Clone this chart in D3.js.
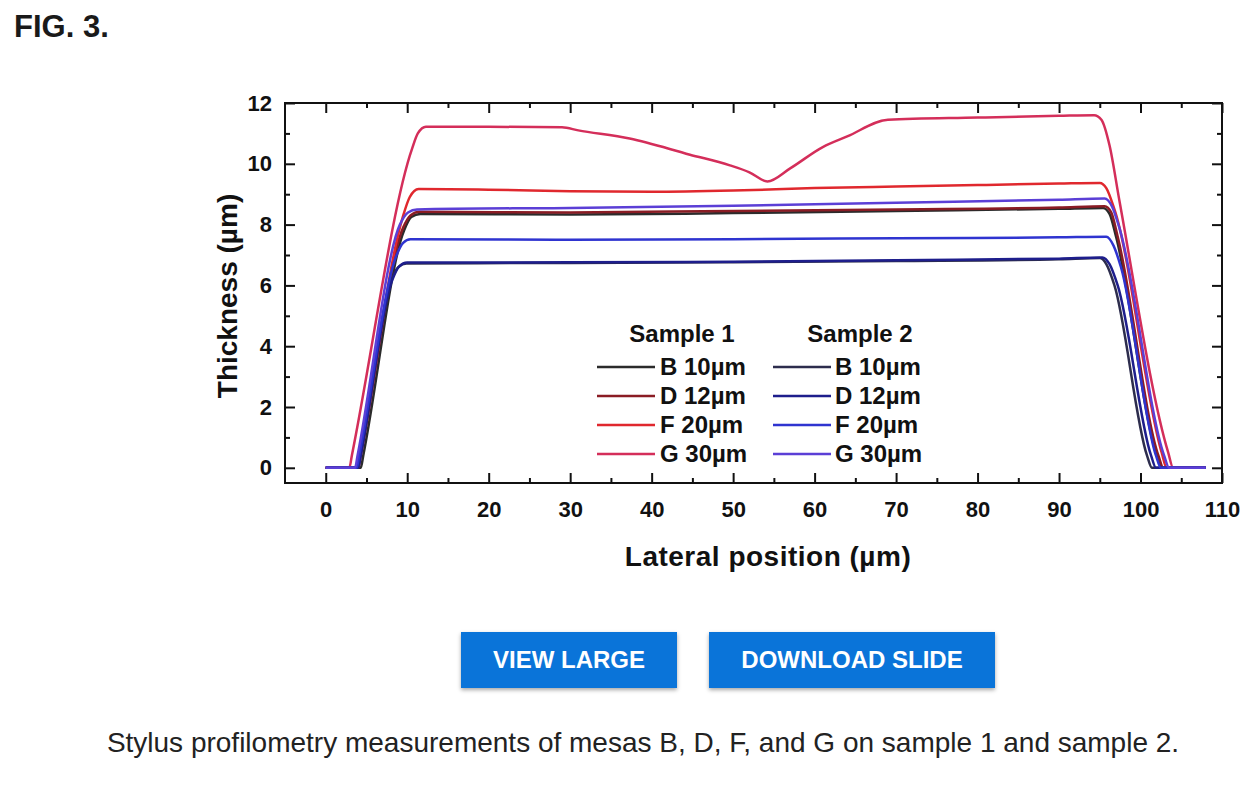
<!DOCTYPE html>
<html>
<head>
<meta charset="utf-8">
<script src="https://cdn.jsdelivr.net/npm/d3@7"></script>
<style>
  body {
    margin: 0;
    width: 1260px;
    height: 786px;
    background: #fff;
    font-family: 'Liberation Sans', Arial, sans-serif;
    position: relative;
    overflow: hidden;
  }
  .fig-label {
    position: absolute; left: 14px; top: 12px;
    font-size: 31px; line-height: 30px; font-weight: bold; color: #1a1a1a;
  }
  #chart { position: absolute; left: 0; top: 0; }
  .btn {
    position: absolute; top: 632px; height: 56px;
    background: #0a74d9; color: #fff;
    font-size: 24px; font-weight: bold;
    display: flex; align-items: center; justify-content: center;
    box-shadow: 0 2px 4px rgba(0, 0, 0, 0.35);
  }
  .caption {
    position: absolute; left: 0; width: 1286px; top: 729px;
    text-align: center; font-size: 28px; line-height: 28px; color: #222;
  }
  .tick-label { font-size: 22px; font-weight: bold; fill: #111; }
  .axis-title { font-size: 28px; font-weight: bold; fill: #111; }
  .legend-text { font-size: 24px; font-weight: bold; fill: #111; }
</style>
</head>
<body>
<div class="fig-label">FIG. 3.</div>
<div id="chart"></div>
<div class="btn" style="left:461px;width:216px;">VIEW LARGE</div>
<div class="btn" style="left:709px;width:286px;">DOWNLOAD SLIDE</div>
<div class="caption">Stylus profilometry measurements of mesas B, D, F, and G on sample 1 and sample 2.</div>
<script>
// axis ticks
const lateralTicks = [0, 10, 20, 30, 40, 50, 60, 70, 80, 90, 100, 110];
const lateralMinorTicks = [5, 15, 25, 35, 45, 55, 65, 75, 85, 95, 105];
const thicknessTicks = [0, 2, 4, 6, 8, 10, 12];
const thicknessMinorTicks = [1, 3, 5, 7, 9, 11];

const samples = ['Sample 1', 'Sample 2'];
const mesas = ['B 10µm', 'D 12µm', 'F 20µm', 'G 30µm'];

// profiles: [lateral position (µm), thickness (µm)]
const sample1B = [[0, 0], [4.3, 0], [4.6, 0.4], [9.6, 7.8], [10.5, 8.25], [11.6, 8.35], [30, 8.33], [50, 8.38],
  [70, 8.45], [90, 8.52], [95.4, 8.55], [96.2, 8.35], [97.0, 7.6], [102.0, 0.4], [102.6, 0], [108, 0]];
const sample1D = [[0, 0], [4.0, 0], [4.3, 0.4], [9.5, 7.9], [10.4, 8.3], [11.5, 8.42], [30, 8.4], [50, 8.45],
  [70, 8.5], [90, 8.56], [95.6, 8.6], [96.4, 8.4], [97.2, 7.6], [102.2, 0.4], [102.8, 0], [108, 0]];
const sample1F = [[0, 0], [3.9, 0], [4.2, 0.4], [9.4, 8.2], [10.3, 8.9], [11.4, 9.17], [20, 9.15], [30, 9.1],
  [40, 9.08], [50, 9.12], [60, 9.2], [70, 9.25], [80, 9.3], [90, 9.35], [95.0, 9.37], [95.8, 9.2],
  [96.8, 8.5], [102.6, 0.5], [103.2, 0], [108, 0]];
const sample1G = [[0, 0], [2.9, 0], [3.2, 0.4], [10.6, 10.5], [11.3, 11.0], [12.3, 11.22], [20, 11.22], [29, 11.2],
  [31, 11.1], [37.3, 10.83], [44.7, 10.3], [49.6, 9.95], [52, 9.72], [54.2, 9.42], [57, 9.85],
  [61, 10.55], [64, 10.9], [69, 11.45], [80, 11.52], [90, 11.58], [94.3, 11.6], [95.2, 11.45],
  [96.2, 10.6], [97.4, 8.8], [103.4, 0.5], [104.0, 0], [108, 0]];
const sample2B = [[0, 0], [3.9, 0], [4.2, 0.4], [8.1, 6.2], [8.9, 6.6], [9.9, 6.72], [30, 6.74], [50, 6.76],
  [70, 6.8], [90, 6.86], [95.0, 6.9], [95.8, 6.7], [96.8, 6.0], [100.8, 0.4], [101.4, 0], [108, 0]];
const sample2D = [[0, 0], [4.0, 0], [4.3, 0.4], [8.2, 6.2], [9.0, 6.62], [10.0, 6.75], [30, 6.76], [50, 6.78],
  [70, 6.83], [90, 6.88], [95.3, 6.92], [96.2, 6.7], [97.2, 6.0], [101.3, 0.4], [101.9, 0], [108, 0]];
const sample2F = [[0, 0], [3.8, 0], [4.1, 0.4], [8.7, 7.0], [9.5, 7.4], [10.4, 7.52], [30, 7.5], [50, 7.52],
  [70, 7.55], [90, 7.58], [95.8, 7.6], [96.7, 7.3], [97.6, 6.6], [101.9, 0.4], [102.5, 0], [108, 0]];
const sample2G = [[0, 0], [3.6, 0], [3.9, 0.4], [9.1, 8.0], [10.1, 8.4], [11.2, 8.5], [30, 8.55], [50, 8.62],
  [70, 8.72], [90, 8.82], [95.6, 8.86], [96.5, 8.6], [97.4, 7.9], [102.9, 0.4], [103.5, 0], [108, 0]];

const profiles = [
  { sample: 'Sample 1', mesa: 'B 10µm', values: sample1B },
  { sample: 'Sample 1', mesa: 'D 12µm', values: sample1D },
  { sample: 'Sample 1', mesa: 'F 20µm', values: sample1F },
  { sample: 'Sample 1', mesa: 'G 30µm', values: sample1G },
  { sample: 'Sample 2', mesa: 'B 10µm', values: sample2B },
  { sample: 'Sample 2', mesa: 'D 12µm', values: sample2D },
  { sample: 'Sample 2', mesa: 'F 20µm', values: sample2F },
  { sample: 'Sample 2', mesa: 'G 30µm', values: sample2G },
];

class ProfileChart {
  constructor(_config, _data) {
    this.config = {
      parentElement: _config.parentElement,
      containerWidth: _config.containerWidth,
      containerHeight: _config.containerHeight,
      margin: {
        top: 103, right: 38, bottom: 117, left: 285,
      },
      majorTick: 10,
      minorTick: 5,
      colours: {
        'Sample 1': ['#2b2b2b', '#8a1c24', '#e0282e', '#d42e5a'],
        'Sample 2': ['#2d2d4d', '#1e1e8c', '#2f34d0', '#5b3fd6'],
      },
    };
    this.data = _data;
    this.render();
  }

  render() {
    const vis = this;

    vis.width = vis.config.containerWidth - vis.config.margin.left - vis.config.margin.right;
    vis.height = vis.config.containerHeight - vis.config.margin.top - vis.config.margin.bottom;

    vis.xScale = d3.scaleLinear().domain([-5, 110]).range([0, vis.width]);
    vis.yScale = d3.scaleLinear().domain([-0.5, 12]).range([vis.height, 0]);

    vis.colour = (d) => vis.config.colours[d.sample][mesas.indexOf(d.mesa)];

    vis.svg = d3.select(vis.config.parentElement).append('svg')
      .attr('width', vis.config.containerWidth)
      .attr('height', vis.config.containerHeight);

    vis.chart = vis.svg.append('g')
      .attr('transform', `translate(${vis.config.margin.left},${vis.config.margin.top})`);

    // ticks on all four sides, pointing inward
    const tickAxes = [
      { axis: d3.axisBottom, scale: vis.xScale, major: lateralTicks, minor: lateralMinorTicks, at: `0,${vis.height}` },
      { axis: d3.axisTop, scale: vis.xScale, major: lateralTicks, minor: lateralMinorTicks, at: '0,0' },
      { axis: d3.axisLeft, scale: vis.yScale, major: thicknessTicks, minor: thicknessMinorTicks, at: '0,0' },
      { axis: d3.axisRight, scale: vis.yScale, major: thicknessTicks, minor: thicknessMinorTicks, at: `${vis.width},0` },
    ];

    tickAxes.forEach((t) => {
      [[t.major, vis.config.majorTick], [t.minor, vis.config.minorTick]].forEach(([values, size]) => {
        const g = vis.chart.append('g')
          .attr('transform', `translate(${t.at})`)
          .call(t.axis(t.scale).tickValues(values).tickSize(-size).tickFormat(''));
        g.select('.domain').remove();
        g.selectAll('line').attr('stroke', '#111').attr('stroke-width', 2);
      });
    });

    // tick labels
    vis.chart.append('g')
      .attr('transform', `translate(0,${vis.height})`)
      .call(d3.axisBottom(vis.xScale).tickValues(lateralTicks).tickSize(0).tickPadding(18))
      .call((g) => g.select('.domain').remove())
      .selectAll('text')
      .attr('class', 'tick-label')
      .attr('font-family', null)
      .attr('font-size', null);

    vis.chart.append('g')
      .call(d3.axisLeft(vis.yScale).tickValues(thicknessTicks).tickSize(0).tickPadding(13))
      .call((g) => g.select('.domain').remove())
      .selectAll('text')
      .attr('class', 'tick-label')
      .attr('font-family', null)
      .attr('font-size', null);

    // frame
    vis.chart.append('rect')
      .attr('width', vis.width)
      .attr('height', vis.height)
      .attr('fill', 'none')
      .attr('stroke', '#111')
      .attr('stroke-width', 2);

    // profiles
    vis.line = d3.line()
      .x((d) => vis.xScale(d[0]))
      .y((d) => vis.yScale(d[1]))
      .curve(d3.curveMonotoneX);

    vis.chart.append('g')
      .selectAll('.profile')
      .data(vis.data)
      .join('path')
      .attr('class', 'profile')
      .attr('fill', 'none')
      .attr('stroke', (d) => vis.colour(d))
      .attr('stroke-width', 2.5)
      .attr('stroke-linejoin', 'round')
      .attr('d', (d) => vis.line(d.values));

    // axis titles
    vis.svg.append('text')
      .attr('class', 'axis-title')
      .attr('text-anchor', 'middle')
      .attr('letter-spacing', 0.5)
      .attr('x', 768)
      .attr('y', 566)
      .text('Lateral position (µm)');

    vis.svg.append('text')
      .attr('class', 'axis-title')
      .attr('text-anchor', 'middle')
      .attr('transform', 'translate(237,296) rotate(-90)')
      .text('Thickness (µm)');

    // legend: one column per sample
    const legendCols = { 'Sample 1': { lineX: 597, textX: 660, titleX: 682 }, 'Sample 2': { lineX: 773, textX: 835, titleX: 860 } };
    const rowY = d3.scalePoint().domain(mesas).range([375, 462]);

    vis.legend = vis.svg.append('g').attr('class', 'legend');

    vis.legend.selectAll('.legend-title')
      .data(samples)
      .join('text')
      .attr('class', 'legend-text legend-title')
      .attr('text-anchor', 'middle')
      .attr('x', (d) => legendCols[d].titleX)
      .attr('y', 342)
      .text((d) => d);

    const items = vis.legend.selectAll('.legend-item')
      .data(vis.data)
      .join('g')
      .attr('class', 'legend-item')
      .attr('transform', (d) => `translate(0,${rowY(d.mesa)})`);

    items.append('line')
      .attr('x1', (d) => legendCols[d.sample].lineX)
      .attr('x2', (d) => legendCols[d.sample].lineX + 58)
      .attr('y1', -8)
      .attr('y2', -8)
      .attr('stroke', (d) => vis.colour(d))
      .attr('stroke-width', 2.5);

    items.append('text')
      .attr('class', 'legend-text')
      .attr('x', (d) => legendCols[d.sample].textX)
      .attr('y', 0)
      .text((d) => d.mesa);
  }
}

new ProfileChart({
  parentElement: '#chart',
  containerWidth: 1260,
  containerHeight: 600,
}, profiles);
</script>
</body>
</html>
